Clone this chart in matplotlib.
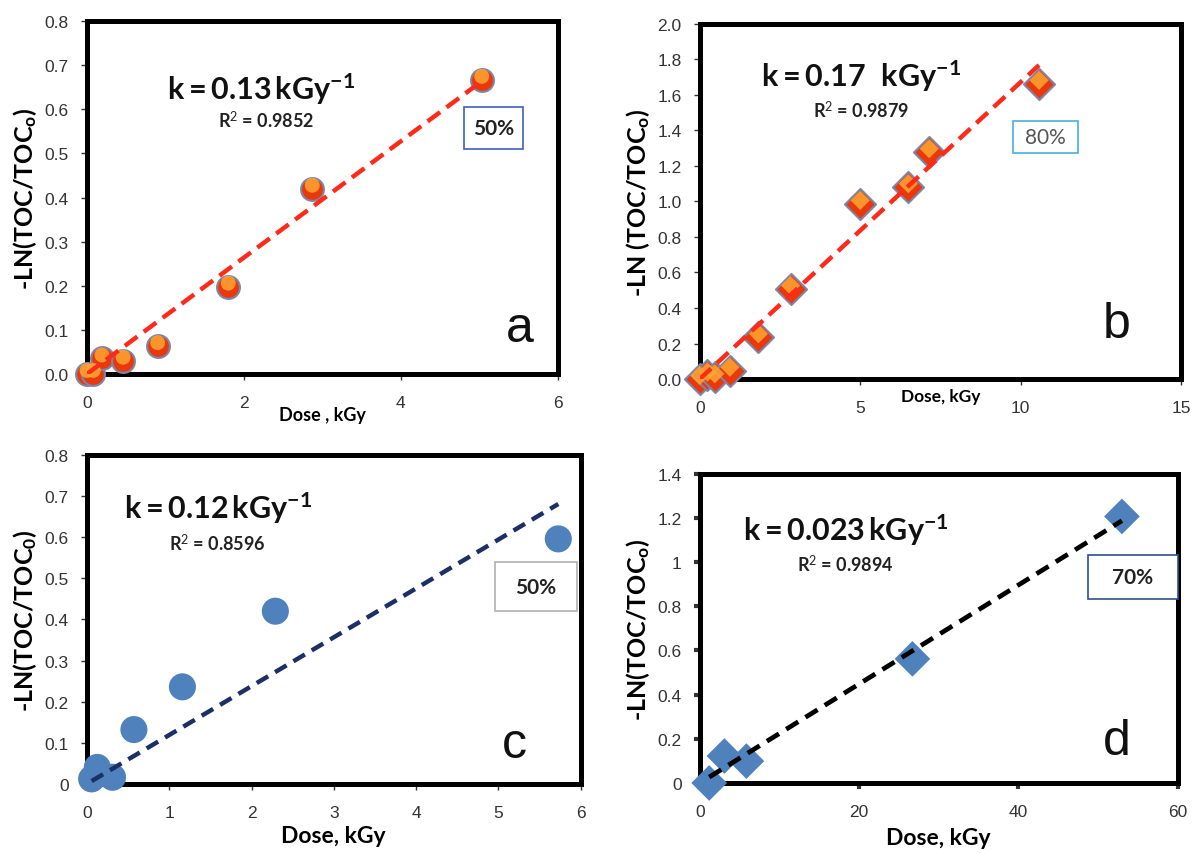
import numpy as np
import matplotlib
matplotlib.use("Agg")
import matplotlib.pyplot as plt
from matplotlib.patches import Rectangle
from matplotlib.transforms import offset_copy

plt.rcParams['font.family'] = ['Liberation Sans', 'DejaVu Sans']
plt.rcParams['mathtext.fontset'] = 'custom'
plt.rcParams['mathtext.rm'] = 'Lato'
plt.rcParams['mathtext.bf'] = 'Lato:bold'
plt.rcParams['mathtext.it'] = 'Lato:italic'

# data
dose_a = [0.0, 0.08, 0.19, 0.46, 0.90, 1.80, 2.87, 5.03]
ln_a = [0.0, 0.0, 0.035, 0.030, 0.063, 0.198, 0.420, 0.667]

dose_b = [0.0, 0.24, 0.47, 0.94, 1.83, 2.83, 5.0, 6.5, 7.15, 10.57]
ln_b = [0.0, 0.02, 0.01, 0.047, 0.235, 0.507, 0.986, 1.08, 1.277, 1.662]

dose_c = [0.056, 0.125, 0.31, 0.57, 1.16, 2.29, 5.73]
ln_c = [0.012, 0.04, 0.016, 0.132, 0.236, 0.42, 0.596]

dose_d = [1.19, 3.1, 5.86, 26.7, 53.0]
ln_d = [0.0, 0.122, 0.099, 0.562, 1.207]

k_labels = [r"$\mathbf{k = 0.13\,kGy^{-1}}$", r"$\mathbf{k = 0.17\ \ kGy^{-1}}$",
            r"$\mathbf{k = 0.12\,kGy^{-1}}$", r"$\mathbf{k = 0.023\,kGy^{-1}}$"]
r2_labels = ["R$^2$ = 0.9852", "R$^2$ = 0.9879", "R$^2$ = 0.8596", "R$^2$ = 0.9894"]
pct_labels = ["50%", "80%", "50%", "70%"]
panel_letters = ["a", "b", "c", "d"]
ylabels = [r"-LN(TOC/TOC$_\mathbf{o}$)", r"-LN (TOC/TOC$_\mathbf{o}$)",
           r"-LN(TOC/TOC$_\mathbf{0}$)", r"-LN(TOC/TOC$_\mathbf{o}$)"]
xlabels = ["Dose , kGy", "Dose, kGy", "Dose, kGy", "Dose, kGy"]


def zero_fit(x, y):
    # excel style trendline through the origin
    x = np.asarray(x)
    y = np.asarray(y)
    k = np.sum(x*y)/np.sum(x*x)
    xs = np.array([x[0], x[-1]])
    return xs, k*xs


def style_axes(ax, xlim, ylim, xticks, yticks, yfmt, tickw=1.0):
    ax.set_xlim(*xlim)
    ax.set_ylim(*ylim)
    ax.set_xticks(xticks)
    ax.set_yticks(yticks)
    ax.set_yticklabels([yfmt.format(v) for v in yticks])
    for s in ax.spines.values():
        s.set_linewidth(3.6)
        s.set_color('black')
    ax.tick_params(direction='out', length=4, width=tickw, colors='#333333', labelsize=12.5)
    ax.tick_params(axis='y', pad=9)
    ax.tick_params(axis='x', pad=11)


def annotate(ax, i, kxy, rxy, box, pedge, lxy, pbold=True, pcolor='#222222'):
    ax.text(kxy[0], kxy[1], k_labels[i], transform=ax.transAxes, ha='center', va='center',
            fontsize=22, color='#111111')
    ax.text(rxy[0], rxy[1], r2_labels[i], transform=ax.transAxes, ha='center', va='center',
            fontsize=13, fontweight='bold', family='Lato', color='#222222')
    x0, y0, x1, y1 = box
    ax.add_patch(Rectangle((x0, y0), x1 - x0, y1 - y0, transform=ax.transAxes,
                           fc='white', ec=pedge, lw=1.2, zorder=7, clip_on=False))
    ax.text((x0 + x1)/2, (y0 + y1)/2, pct_labels[i], transform=ax.transAxes, ha='center', va='center',
            fontsize=15, fontweight='bold' if pbold else 'normal', family='Lato', color=pcolor, zorder=8)
    ax.text(lxy[0], lxy[1], panel_letters[i], transform=ax.transAxes, ha='center', va='center',
            fontsize=36, color='#111111')


fig = plt.figure(figsize=(11.92, 8.54), dpi=100)
ax_a = fig.add_axes([0.073, 0.561, 0.395, 0.413])
ax_b = fig.add_axes([0.587, 0.555, 0.404, 0.416])
ax_c = fig.add_axes([0.073, 0.081, 0.414, 0.385])
ax_d = fig.add_axes([0.587, 0.082, 0.401, 0.362])

ylab = dict(fontsize=18, fontweight='bold', family='Lato', labelpad=4)

# panel a
xs, ys = zero_fit(dose_a, ln_a)
ax_a.scatter(dose_a, ln_a, s=270, c='#e8380c', edgecolors='#7d86a8', linewidths=1.5, zorder=4, clip_on=False)
hi = offset_copy(ax_a.transData, fig=fig, x=0, y=2.5, units='points')
ax_a.scatter(dose_a, ln_a, s=115, c='#ffa531', edgecolors='none', alpha=0.85, zorder=5, clip_on=False, transform=hi)
ax_a.plot(xs, ys, color='#ff2a1a', lw=3.2, dashes=(3.5, 1.8), zorder=6)
style_axes(ax_a, (0, 6), (0, 0.8), [0, 2, 4, 6], np.arange(0, 0.81, 0.1), "{:.1f}")
ax_a.set_ylabel(ylabels[0], **ylab)
ax_a.set_xlabel(xlabels[0], fontsize=13, fontweight='bold', family='Lato', labelpad=-3)
annotate(ax_a, 0, (0.37, 0.81), (0.38, 0.72), (0.80, 0.637, 0.927, 0.757), '#3f5fbf', (0.92, 0.13))

# panel b
xs, ys = zero_fit(dose_b, ln_b)
ax_b.scatter(dose_b, ln_b, s=250, marker='D', c='#e8380c', edgecolors='#7d86a8', linewidths=1.5, zorder=4, clip_on=False)
hi = offset_copy(ax_b.transData, fig=fig, x=0, y=2.5, units='points')
ax_b.scatter(dose_b, ln_b, s=95, marker='D', c='#ffa531', edgecolors='none', alpha=0.85, zorder=5, clip_on=False, transform=hi)
ax_b.plot(xs, ys, color='#ff2a1a', lw=3.2, dashes=(3.5, 1.8), zorder=6)
style_axes(ax_b, (0, 15), (0, 2.0), [0, 5, 10, 15], np.arange(0, 2.01, 0.2), "{:.1f}")
ax_b.set_ylabel(ylabels[1], **ylab)
ax_b.set_xlabel(xlabels[1], fontsize=12.5, fontweight='bold', family='Lato', labelpad=-19)
annotate(ax_b, 1, (0.335, 0.855), (0.335, 0.76), (0.65, 0.637, 0.785, 0.725), '#4aaee0', (0.866, 0.155),
         pbold=False, pcolor='#555555')

# panel c
xs, ys = zero_fit(dose_c, ln_c)
ax_c.scatter(dose_c, ln_c, s=380, c='#4f81bd', edgecolors='none', zorder=4, clip_on=False)
ax_c.plot(xs, ys, color='#1c2f66', lw=3.2, dashes=(3.0, 1.8), zorder=5)
style_axes(ax_c, (0, 6), (0, 0.8), [0, 1, 2, 3, 4, 5, 6], np.arange(0, 0.81, 0.1), "{:g}")
ax_c.set_ylabel(ylabels[2], **ylab)
ax_c.set_xlabel(xlabels[2], fontsize=16.5, fontweight='bold', family='Lato', labelpad=4)
annotate(ax_c, 2, (0.265, 0.84), (0.265, 0.735), (0.826, 0.525, 0.992, 0.675), '#b0b0b0', (0.865, 0.12))

# panel d
xs, ys = zero_fit(dose_d, ln_d)
ax_d.scatter(dose_d, ln_d, s=330, marker='D', c='#4f81bd', edgecolors='none', zorder=4, clip_on=False)
ax_d.plot(xs, ys, color='black', lw=3.4, dashes=(3.0, 1.8), zorder=5)
style_axes(ax_d, (0, 60), (0, 1.4), [0, 20, 40, 60], np.arange(0, 1.41, 0.2), "{:g}", tickw=3.0)
ax_d.set_ylabel(ylabels[3], **ylab)
ax_d.set_xlabel(xlabels[3], fontsize=16.5, fontweight='bold', family='Lato', labelpad=6)
annotate(ax_d, 3, (0.305, 0.82), (0.305, 0.71), (0.813, 0.596, 1.0, 0.738), '#2f4f8f', (0.873, 0.137))

fig.savefig("out.png", dpi=100)
